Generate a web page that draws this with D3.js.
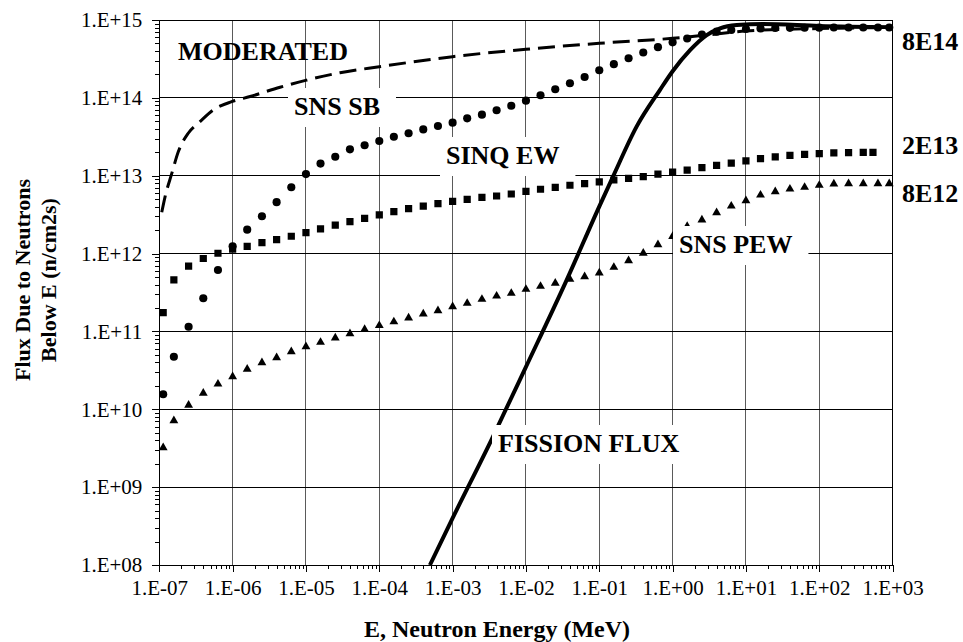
<!DOCTYPE html>
<html>
<head>
<meta charset="utf-8">
<script src="https://cdn.jsdelivr.net/npm/d3@7"></script>
<style>
  body { margin: 0; background: #fff; }
</style>
</head>
<body>
<div id="chart"></div>
<script>
// Energy grid (MeV) used by the marker series
const eGrid = [1.13e-7,
  1.58e-7, 2.51e-7, 3.98e-7, 6.31e-7, 1e-6,
  1.58e-6, 2.51e-6, 3.98e-6, 6.31e-6, 1e-5,
  1.58e-5, 2.51e-5, 3.98e-5, 6.31e-5, 1e-4,
  1.58e-4, 2.51e-4, 3.98e-4, 6.31e-4, 1e-3,
  1.58e-3, 2.51e-3, 3.98e-3, 6.31e-3, 1e-2,
  1.58e-2, 2.51e-2, 3.98e-2, 6.31e-2, 1e-1,
  0.158, 0.251, 0.398, 0.631, 1,
  1.58, 2.51, 3.98, 6.31, 10,
  15.8, 25.1, 39.8, 63.1, 100,
  158, 251, 398, 631, 900];

// SNS SB (circles)
const sbFlux = [1.56e10, 4.73e10, 1.15e11, 2.67e11, 6.15e11, 1.24e12, 2.03e12, 3.02e12, 4.57e12, 7.1e12,
  1.05e13, 1.43e13, 1.75e13, 2.18e13, 2.46e13, 2.79e13, 3.17e13, 3.51e13, 3.93e13, 4.35e13,
  4.8e13, 5.46e13, 6.08e13, 6.94e13, 7.93e13, 9.2e13, 1.08e14, 1.29e14, 1.54e14, 1.85e14,
  2.26e14, 2.71e14, 3.23e14, 3.83e14, 4.48e14, 5.16e14, 5.78e14, 6.51e14, 7.08e14, 7.45e14,
  7.66e14, 7.8e14, 7.89e14, 7.93e14, 7.96e14, 7.98e14, 8.0e14, 8.0e14, 8.0e14, 8.0e14, 8.0e14];

// SINQ EW (squares) - last point sits at 540 MeV
const sinqE = eGrid.slice(0, 49).concat([540]);
const sinqFlux = [1.74e11, 4.58e11, 6.92e11, 8.64e11, 1.01e12, 1.14e12, 1.24e12, 1.38e12, 1.51e12, 1.67e12,
  1.86e12, 2.08e12, 2.32e12, 2.57e12, 2.84e12, 3.15e12, 3.45e12, 3.77e12, 4.08e12, 4.37e12,
  4.69e12, 4.98e12, 5.28e12, 5.49e12, 5.82e12, 6.31e12, 6.7e12, 7.1e12, 7.54e12, 7.91e12,
  8.31e12, 8.81e12, 9.27e12, 9.71e12, 1.05e13, 1.11e13, 1.18e13, 1.27e13, 1.36e13, 1.45e13,
  1.55e13, 1.66e13, 1.75e13, 1.83e13, 1.88e13, 1.92e13, 1.96e13, 1.98e13, 2.0e13, 2.0e13];

// SNS PEW (triangles)
const pewFlux = [3.21e9, 7.14e9, 1.13e10, 1.61e10, 2.11e10, 2.63e10, 3.27e10, 3.97e10, 4.61e10, 5.51e10,
  6.37e10, 7.26e10, 8.25e10, 9.36e10, 1.06e11, 1.19e11, 1.33e11, 1.49e11, 1.68e11, 1.85e11,
  2.08e11, 2.3e11, 2.59e11, 2.85e11, 3.09e11, 3.48e11, 3.8e11, 4.16e11, 4.68e11, 5.05e11,
  5.64e11, 6.67e11, 8.11e11, 1.01e12, 1.3e12, 1.66e12, 2.23e12, 2.7e12, 3.35e12, 4.08e12,
  4.78e12, 5.65e12, 6.23e12, 6.75e12, 7.1e12, 7.53e12, 7.83e12, 7.9e12, 7.9e12, 7.9e12, 7.9e12];

// MODERATED (dashed line)
const modE = [1.08e-7, 1.2e-7, 1.48e-7, 1.82e-7, 2.48e-7, 3.59e-7, 5.45e-7, 9.7e-7, 1.73e-6,
  4.43e-6, 1.02e-5, 2.91e-5, 1e-4, 1e-3, 1e-2, 1e-1, 1, 2.92, 10, 100, 1000];
const modFlux = [3.4e12, 5.4e12, 1.07e13, 2.04e13, 3.51e13, 4.94e13, 6.99e13, 8.93e13, 1.04e14,
  1.37e14, 1.69e14, 2.1e14, 2.51e14, 3.38e14, 4.21e14, 5.02e14, 5.82e14, 6.42e14, 7.22e14, 7.78e14, 8.0e14];

// FISSION FLUX (solid line)
const fisE = [4.9e-4, 1e-3, 3.36e-3, 1e-2, 3.6e-2, 0.102, 0.155, 0.324, 0.67, 1.0, 1.73, 2.92, 4.43, 7.5, 17, 100, 1000];
const fisFlux = [1e8, 4.0e8, 4.0e9, 3.5e10, 4.6e11, 4.2e12, 9.9e12, 4.3e13, 1.26e14, 2.2e14, 4.1e14, 6.4e14, 7.8e14, 8.6e14, 8.9e14, 8.4e14, 8.1e14];

// Axis decades
const xDecades = [-7, -6, -5, -4, -3, -2, -1, 0, 1, 2, 3];
const yDecades = [8, 9, 10, 11, 12, 13, 14, 15];

const W = 963, H = 642;
const plot = { left: 159.3, right: 892.6, top: 20, bottom: 565 };
const FONT = "'Liberation Serif', Tinos, 'Noto Serif', 'DejaVu Serif', FreeSerif, 'Nimbus Roman', Times, serif";

const svg = d3.select("#chart").append("svg")
  .attr("width", W)
  .attr("height", H)
  .attr("font-family", FONT);

const x = d3.scaleLog().domain([1e-7, 1e3]).range([plot.left, plot.right]);
const y = d3.scaleLog().domain([1e8, 1e15]).range([plot.bottom, plot.top]);

const fmtExp = e => "1.E" + (e < 0 ? "-" : "+") + String(Math.abs(e)).padStart(2, "0");

// Grid lines
const grid = svg.append("g").attr("shape-rendering", "crispEdges");
grid.selectAll(".vgrid")
  .data(xDecades)
  .enter().append("line")
  .attr("x1", d => x(Math.pow(10, d))).attr("x2", d => x(Math.pow(10, d)))
  .attr("y1", plot.top).attr("y2", plot.bottom)
  .attr("stroke", "#5a5a5a").attr("stroke-width", 1);
grid.selectAll(".hgrid")
  .data(yDecades)
  .enter().append("line")
  .attr("x1", plot.left).attr("x2", plot.right)
  .attr("y1", d => y(Math.pow(10, d))).attr("y2", d => y(Math.pow(10, d)))
  .attr("stroke", "#000").attr("stroke-width", 1);

// Clip for series
svg.append("defs").append("clipPath").attr("id", "plotClip")
  .append("rect")
  .attr("x", plot.left).attr("y", plot.top - 6)
  .attr("width", plot.right - plot.left + 6).attr("height", plot.bottom - plot.top + 6);

const series = svg.append("g").attr("clip-path", "url(#plotClip)");

const line = d3.line()
  .x(d => x(d[0]))
  .y(d => y(d[1]))
  .curve(d3.curveMonotoneX);

// MODERATED
series.append("path")
  .datum(modE.map((e, i) => [e, modFlux[i]]))
  .attr("d", line)
  .attr("fill", "none")
  .attr("stroke", "#000")
  .attr("stroke-width", 3)
  .attr("stroke-dasharray", "17,8");

// FISSION FLUX
series.append("path")
  .datum(fisE.map((e, i) => [e, fisFlux[i]]))
  .attr("d", line)
  .attr("fill", "none")
  .attr("stroke", "#000")
  .attr("stroke-width", 4);

// Markers
function drawMarkers(es, fs, type, size) {
  series.append("g").selectAll("path")
    .data(es.map((e, i) => [e, fs[i]]))
    .enter().append("path")
    .attr("transform", d => `translate(${x(d[0])},${y(d[1])})`)
    .attr("d", d3.symbol().type(type).size(size))
    .attr("fill", "#000");
}
drawMarkers(eGrid, pewFlux, d3.symbolTriangle, 34);
drawMarkers(sinqE, sinqFlux, d3.symbolSquare, 52);
drawMarkers(eGrid, sbFlux, d3.symbolCircle, 52);

// Series labels (boxed labels hide grid lines behind them)
const labels = [
  { text: "MODERATED", x: 178, y: 60, box: false },
  { text: "SNS SB", x: 294, y: 115, box: true },
  { text: "SINQ EW", x: 446, y: 164, box: true },
  { text: "SNS PEW", x: 679, y: 253, box: true },
  { text: "FISSION FLUX", x: 498, y: 452, box: true },
  { text: "8E14", x: 902, y: 50, box: false },
  { text: "2E13", x: 902, y: 154, box: false },
  { text: "8E12", x: 902, y: 202, box: false }
];
labels.forEach(l => {
  const g = svg.append("g");
  const rect = g.append("rect").attr("fill", "#fff");
  const t = g.append("text")
    .attr("x", l.x).attr("y", l.y)
    .attr("font-family", FONT)
    .attr("font-size", 26)
    .attr("font-weight", "bold")
    .attr("fill", "#000")
    .text(l.text);
  if (l.box) {
    const bb = t.node().getBBox();
    rect.attr("x", bb.x - 6).attr("y", l.y - 27)
      .attr("width", bb.width + 22).attr("height", 39);
  } else {
    rect.remove();
  }
});

// Plot frame
svg.append("rect")
  .attr("x", plot.left).attr("y", plot.top)
  .attr("width", plot.right - plot.left).attr("height", plot.bottom - plot.top)
  .attr("fill", "none").attr("stroke", "#000").attr("stroke-width", 1)
  .attr("shape-rendering", "crispEdges");

// Minor tick values
const minor = (lo, hi) => {
  const v = [];
  for (let e = lo; e < hi; e++) for (let m = 2; m <= 9; m++) v.push(m * Math.pow(10, e));
  return v;
};

// Y axis
const yAxis = svg.append("g").attr("transform", `translate(${plot.left},0)`);
yAxis.call(d3.axisLeft(y).tickValues(minor(8, 15)).tickSize(4).tickFormat(""));
yAxis.call(g => g.select(".domain").remove());
const yMaj = svg.append("g").attr("transform", `translate(${plot.left},0)`)
  .call(d3.axisLeft(y).tickValues(yDecades.map(d => Math.pow(10, d))).tickSize(7).tickPadding(10)
    .tickFormat(d => fmtExp(Math.round(Math.log10(d)))));
yMaj.select(".domain").remove();

// X axis
const xAxis = svg.append("g").attr("transform", `translate(0,${plot.bottom})`);
xAxis.call(d3.axisBottom(x).tickValues(minor(-7, 3)).tickSize(4).tickFormat(""));
xAxis.call(g => g.select(".domain").remove());
const xMaj = svg.append("g").attr("transform", `translate(0,${plot.bottom})`)
  .call(d3.axisBottom(x).tickValues(xDecades.map(d => Math.pow(10, d))).tickSize(7).tickPadding(8)
    .tickFormat(d => fmtExp(Math.round(Math.log10(d)))));
xMaj.select(".domain").remove();

[yAxis, yMaj, xAxis, xMaj].forEach(g => g.attr("font-family", FONT).attr("font-size", 21));
svg.selectAll(".tick line").attr("stroke", "#000").attr("shape-rendering", "crispEdges");
svg.selectAll(".tick text").attr("fill", "#000");

// Axis titles
svg.append("text")
  .attr("x", 497).attr("y", 637)
  .attr("text-anchor", "middle")
  .attr("font-size", 24)
  .attr("font-weight", "bold")
  .text("E, Neutron Energy (MeV)");

const yTitle = svg.append("text")
  .attr("transform", "translate(30,280) rotate(-90)")
  .attr("text-anchor", "middle")
  .attr("font-size", 22)
  .attr("font-weight", "bold");
yTitle.append("tspan").attr("x", 0).attr("y", 0).text("Flux Due to Neutrons");
yTitle.append("tspan").attr("x", 0).attr("y", 26).text("Below E (n/cm2s)");
</script>
</body>
</html>
